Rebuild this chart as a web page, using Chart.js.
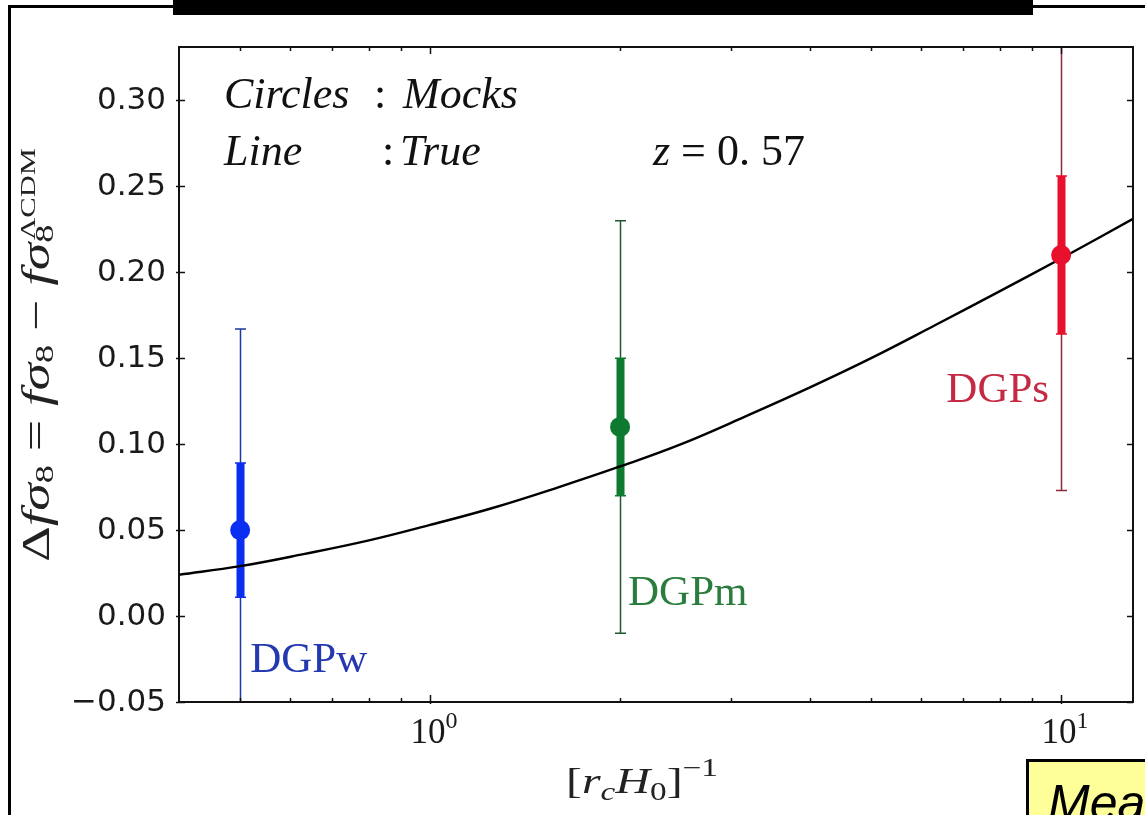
<!DOCTYPE html>
<html>
<head>
<meta charset="utf-8">
<title>DGP growth rate</title>
<script src="https://cdn.jsdelivr.net/npm/chart.js@4.4.1/dist/chart.umd.min.js"></script>
<style>
  html, body { margin: 0; padding: 0; background: #fff; }
  #slide { position: relative; width: 1145px; height: 815px; overflow: hidden; background: #fff; }
  #chart { position: absolute; left: 0; top: 0; }
  /* bits of the slide around the figure */
  .frame-top { position: absolute; left: 8px; top: 5px; width: 1140px; height: 3px; background: #000; }
  .frame-left { position: absolute; left: 8px; top: 5px; width: 3px; height: 815px; background: #000; }
  .title-bar { position: absolute; left: 173px; top: 0; width: 860px; height: 15px; background: #000; }
  .note { position: absolute; left: 1026px; top: 759px; width: 140px; height: 80px;
          background: #ffff99; border: 3px solid #000; box-sizing: border-box;
          font: italic 50px "Liberation Sans", Arial, sans-serif; color: #000;
          padding: 13px 0 0 19px; line-height: 56px; white-space: nowrap; }
</style>
</head>
<body>
<div id="slide">
  <div class="frame-top"></div>
  <div class="frame-left"></div>
  <div class="title-bar"></div>
  <canvas id="chart" width="1145" height="815"></canvas>
  <div class="note">Mea</div>
</div>
<script>
// ---- data ----
const models = ['DGPw', 'DGPm', 'DGPs'];
const modelX = [0.5, 2, 10];
const mockY = [0.05, 0.11, 0.21];
const errInner = [0.039, 0.040, 0.046];
const errOuter = [0.117, 0.120, 0.137];

// the "true" curve, read at roughly even steps in log x
const trueX = [0.4, 0.5, 0.63, 0.8, 1, 1.26, 1.6, 2, 2.5, 3.2, 4, 5, 6.3, 8, 10, 13];
const trueY = [0.024, 0.029, 0.036, 0.044, 0.053, 0.063, 0.075, 0.087, 0.100, 0.117, 0.133, 0.150, 0.169, 0.189, 0.208, 0.231];

const yTicks = [-0.05, 0.00, 0.05, 0.10, 0.15, 0.20, 0.25, 0.30];
const yTickLabels = ['\u22120.05', '0.00', '0.05', '0.10', '0.15', '0.20', '0.25', '0.30'];
const xMajorTicks = [1, 10];
const xTickExp = ['0', '1'];

// ---- styles ----
const markColors = ['#0b2ff0', '#0d7a30', '#e8102c'];
const thinColors = ['#1d3aa0', '#1f5a32', '#8a2a3a'];
const textColors = ['#2438b0', '#2a7d3e', '#c42a44'];
// label offsets from the marker, in pixels
const labelOffsets = [
  { dx: 10, dy: 142, align: 'left' },
  { dx: 8, dy: 178, align: 'left' },
  { dx: -12, dy: 147, align: 'right' }
];
const SERIF = '"Liberation Serif", "DejaVu Serif", serif';
const SANS = '"DejaVu Sans", sans-serif';

// pieces: [text, font, dy]
function runWidth(ctx, pieces) {
  let w = 0;
  pieces.forEach(p => { ctx.font = p[1]; w += ctx.measureText(p[0]).width; });
  return w;
}
function drawRun(ctx, x, y, pieces) {
  pieces.forEach(p => {
    ctx.font = p[1];
    ctx.fillText(p[0], x, y + (p[2] || 0));
    x += ctx.measureText(p[0]).width;
  });
  return x;
}

const figurePlugin = {
  id: 'figure',
  beforeDatasetsDraw(chart) {
    const { ctx, chartArea: a } = chart;
    const xs = chart.scales.x, ys = chart.scales.y;
    ctx.save();
    ctx.beginPath();
    ctx.rect(a.left, a.top, a.right - a.left, a.bottom - a.top);
    ctx.clip();
    models.forEach((m, i) => {
      const px = Math.round(xs.getPixelForValue(modelX[i])) + 0.5;
      const drawBar = (err, width, cap, color) => {
        const y1 = ys.getPixelForValue(mockY[i] + err);
        const y2 = ys.getPixelForValue(mockY[i] - err);
        ctx.strokeStyle = color;
        ctx.lineWidth = width;
        ctx.beginPath();
        ctx.moveTo(px, y1); ctx.lineTo(px, y2);
        ctx.stroke();
        ctx.lineWidth = 1.5;
        ctx.beginPath();
        ctx.moveTo(px - cap, y1); ctx.lineTo(px + cap, y1);
        ctx.moveTo(px - cap, y2); ctx.lineTo(px + cap, y2);
        ctx.stroke();
      };
      drawBar(errOuter[i], 1.5, 5.5, thinColors[i]);
      drawBar(errInner[i], 8, 5.5, markColors[i]);
    });
    ctx.restore();
  },
  afterDraw(chart) {
    const { ctx, chartArea: a } = chart;
    const xs = chart.scales.x, ys = chart.scales.y;
    ctx.save();

    // spines
    ctx.strokeStyle = '#111';
    ctx.lineWidth = 2;
    ctx.strokeRect(a.left, a.top, a.right - a.left, a.bottom - a.top);

    // ticks (inward, mirrored on top/right)
    ctx.lineWidth = 1.5;
    ctx.beginPath();
    yTicks.forEach(v => {
      const py = Math.round(ys.getPixelForValue(v)) + 0.5;
      ctx.moveTo(a.left - 3, py); ctx.lineTo(a.left + 6, py);
      ctx.moveTo(a.right - 6, py); ctx.lineTo(a.right, py);
    });
    xs.ticks.forEach(t => {
      const v = t.value;
      const e = Math.floor(Math.log10(v) + 1e-9);
      const sig = v / Math.pow(10, e);
      if (Math.abs(sig - Math.round(sig)) > 1e-6) return;
      if (v <= xs.min || v >= xs.max) return;
      const major = Math.abs(sig - 1) < 1e-6;
      const len = major ? 7 : 4;
      const px = Math.round(xs.getPixelForValue(v)) + 0.5;
      ctx.moveTo(px, a.bottom + (major ? 2 : 0)); ctx.lineTo(px, a.bottom - len);
      ctx.moveTo(px, a.top); ctx.lineTo(px, a.top + len);
    });
    ctx.stroke();

    // y tick labels
    ctx.fillStyle = '#1a1a1a';
    ctx.font = '31px ' + SANS;
    ctx.textAlign = 'right';
    ctx.textBaseline = 'middle';
    yTicks.forEach((v, i) => {
      ctx.fillText(yTickLabels[i], a.left - 13, ys.getPixelForValue(v) + 1);
    });

    // x tick labels 10^n
    ctx.textAlign = 'left';
    ctx.textBaseline = 'alphabetic';
    xMajorTicks.forEach((v, i) => {
      const px = xs.getPixelForValue(v);
      const run = [
        ['10', '35px ' + SERIF, 0],
        [xTickExp[i], '24px ' + SERIF, -15]
      ];
      drawRun(ctx, px - runWidth(ctx, run) / 2 + 4, a.bottom + 41, run);
    });

    // x axis title  [r_c H_0]^-1, stretched to the width seen in the figure
    ctx.fillStyle = '#222';
    const xt = [
      ['[', '36px ' + SERIF, 0],
      ['r', 'italic 36px ' + SERIF, 0],
      ['c', 'italic 25px ' + SERIF, 7],
      ['H', 'italic 36px ' + SERIF, 0],
      ['0', '25px ' + SERIF, 7],
      [']', '36px ' + SERIF, 0],
      ['\u22121', '25px ' + SERIF, -17]
    ];
    const wx = runWidth(ctx, xt);
    ctx.save();
    ctx.translate(642 - 76, a.bottom + 91);
    ctx.scale(152 / wx, 1);
    drawRun(ctx, 0, 0, xt);
    ctx.restore();

    // y axis title, rotated and stretched along its length
    ctx.save();
    ctx.translate(49, 562);
    ctx.rotate(-Math.PI / 2);
    ctx.fillStyle = '#222';
    const M = '40px ' + SERIF, MI = 'italic 40px ' + SERIF, SUB = '26px ' + SERIF, SUP = '22px ' + SERIF;
    const yt = [
      ['\u0394', M, 0], ['f\u03c3', MI, 0], ['8', SUB, 4],
      [' = ', M, 0], ['f\u03c3', MI, 0], ['8', SUB, 4],
      [' \u2212 ', M, 0], ['f\u03c3', MI, 0]
    ];
    const w0 = runWidth(ctx, yt);
    ctx.font = SUP;
    const wsup = ctx.measureText('\u039bCDM').width + 2;
    ctx.scale(414 / (w0 + wsup), 1);
    const x = drawRun(ctx, 0, 0, yt);
    ctx.font = SUB;
    ctx.fillText('8', x, 4);
    ctx.font = SUP;
    ctx.fillText('\u039bCDM', x + 2, -14);
    ctx.restore();

    // in-panel notes
    ctx.fillStyle = '#111';
    const L = a.left;
    const NI = 'italic 44px ' + SERIF, NR = '44px ' + SERIF;
    drawRun(ctx, L + 45, 108, [['Circles', NI, 0]]);
    drawRun(ctx, L + 195, 108, [[':', NR, 0]]);
    drawRun(ctx, L + 224, 108, [['Mocks', NI, 0]]);
    drawRun(ctx, L + 45, 165, [['Line', NI, 0]]);
    drawRun(ctx, L + 203, 165, [[':', NR, 0]]);
    drawRun(ctx, L + 221, 165, [['True', NI, 0]]);
    drawRun(ctx, L + 474, 165, [['z', NI, 0], [' = ', NR, 0], ['0. 57', NR, 0]]);

    // model labels next to each mock point
    models.forEach((m, i) => {
      const o = labelOffsets[i];
      ctx.font = '43px ' + SERIF;
      ctx.fillStyle = textColors[i];
      ctx.textAlign = o.align;
      ctx.fillText(m, xs.getPixelForValue(modelX[i]) + o.dx, ys.getPixelForValue(mockY[i]) + o.dy);
    });
    ctx.restore();
  }
};

const ctx = document.getElementById('chart').getContext('2d');
new Chart(ctx, {
  data: {
    datasets: [
      {
        type: 'scatter',
        label: 'Mocks',
        data: modelX.map((x, i) => ({ x: x, y: mockY[i] })),
        pointRadius: 10,
        pointHoverRadius: 10,
        pointBackgroundColor: markColors,
        pointBorderColor: markColors,
        pointBorderWidth: 0,
        order: 0
      },
      {
        type: 'line',
        label: 'True',
        data: trueX.map((x, i) => ({ x: x, y: trueY[i] })),
        borderColor: '#000',
        borderWidth: 2.4,
        pointRadius: 0,
        tension: 0.4,
        fill: false,
        order: 1
      }
    ]
  },
  options: {
    responsive: false,
    animation: false,
    events: [],
    layout: { padding: { left: 179, right: 12, top: 47, bottom: 113 } },
    plugins: { legend: { display: false }, tooltip: { enabled: false } },
    scales: {
      x: {
        type: 'logarithmic',
        min: 0.4,
        max: 13,
        ticks: { display: false },
        grid: { display: false, drawTicks: false },
        border: { display: false }
      },
      y: {
        type: 'linear',
        min: -0.05,
        max: 0.331,
        ticks: { display: false },
        grid: { display: false, drawTicks: false },
        border: { display: false }
      }
    }
  },
  plugins: [figurePlugin]
});
</script>
</body>
</html>
